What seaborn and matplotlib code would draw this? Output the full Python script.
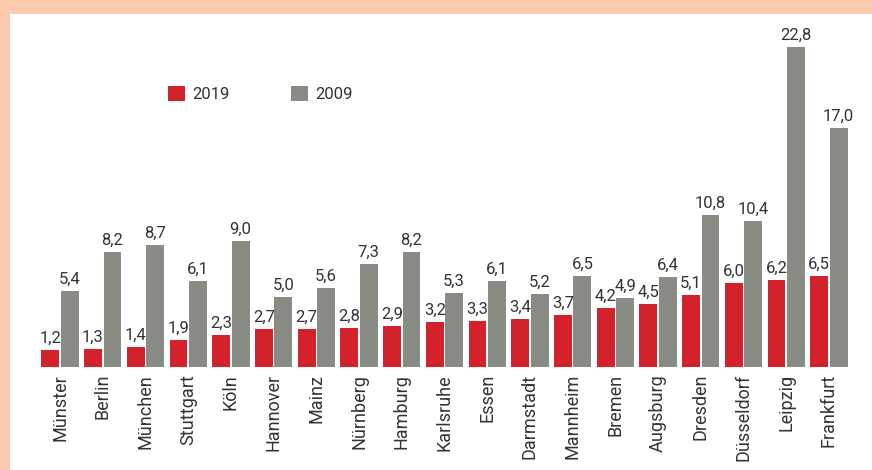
import matplotlib
matplotlib.use("Agg")
import matplotlib.pyplot as plt
import seaborn as sns
import pandas as pd
from matplotlib.patches import Rectangle, Patch

cities = ["Münster", "Berlin", "München", "Stuttgart", "Köln", "Hannover", "Mainz",
          "Nürnberg", "Hamburg", "Karlsruhe", "Essen", "Darmstadt", "Mannheim",
          "Bremen", "Augsburg", "Dresden", "Düsseldorf", "Leipzig", "Frankfurt"]
v2019 = [1.2, 1.3, 1.4, 1.9, 2.3, 2.7, 2.7, 2.8, 2.9, 3.2, 3.3, 3.4, 3.7, 4.2, 4.5, 5.1, 6.0, 6.2, 6.5]
v2009 = [5.4, 8.2, 8.7, 6.1, 9.0, 5.0, 5.6, 7.3, 8.2, 5.3, 6.1, 5.2, 6.5, 4.9, 6.4, 10.8, 10.4, 22.8, 17.0]
years = ["2019", "2009"]

RED = "#D3222C"
GRAY = "#888C85"
PEACH = "#FCCAAE"
TXT = "#333333"

df = pd.DataFrame({
    "city": cities * 2,
    "value": v2019 + v2009,
    "year": [years[0]] * len(cities) + [years[1]] * len(cities),
})

sns.set_style("white")
plt.rcParams["font.family"] = ["Roboto", "DejaVu Sans"]

W, H = 872, 470
fig = plt.figure(figsize=(W / 100, H / 100), dpi=100)
fig.patch.set_facecolor("white")
# peach frame bands
fig.patches.append(Rectangle((0, 1 - 14 / H), 1, 14 / H, transform=fig.transFigure,
                             facecolor=PEACH, edgecolor="none", zorder=0))
fig.patches.append(Rectangle((0, 0), 10 / W, 1, transform=fig.transFigure,
                             facecolor=PEACH, edgecolor="none", zorder=0))

left_px, right_px = 30, 860
base_px, top_px = 367, 30
ax = fig.add_axes([left_px / W, (H - base_px) / H, (right_px - left_px) / W, (base_px - top_px) / H])
ax.set_facecolor("none")

sns.barplot(data=df, x="city", y="value", hue="year", hue_order=years,
            palette=[RED, GRAY], order=cities, width=0.91, gap=0.08,
            errorbar=None, ax=ax, legend=False, saturation=1, linewidth=0)

unit = 42.72
c0 = 60
ax.set_xlim(-(c0 - left_px) / unit, 18 + (right_px - 829) / unit)
ax.set_ylim(0, (base_px - top_px) / 14.05)

for cont in ax.containers:
    labels = [f"{b.get_height():.1f}".replace(".", ",") for b in cont]
    ax.bar_label(cont, labels=labels, padding=3, fontsize=12, color=TXT)

for s in ax.spines.values():
    s.set_visible(False)
ax.set_yticks([])
ax.set_xlabel("")
ax.set_ylabel("")
ax.tick_params(axis="x", length=0, pad=5, labelsize=13, labelcolor=TXT)
plt.setp(ax.get_xticklabels(), rotation=90, ha="center", va="top")

handles = [Patch(facecolor=RED, edgecolor="none"), Patch(facecolor=GRAY, edgecolor="none")]
leg = fig.legend(handles, years, loc="center left",
                 bbox_to_anchor=(163 / W, 1 - 94 / H), ncol=2, frameon=False,
                 handlelength=1.0, handleheight=1.0, handletextpad=0.45,
                 columnspacing=3.7, fontsize=12, borderaxespad=0, borderpad=0.3)
for t in leg.get_texts():
    t.set_color(TXT)

fig.savefig("out.png", dpi=100)
